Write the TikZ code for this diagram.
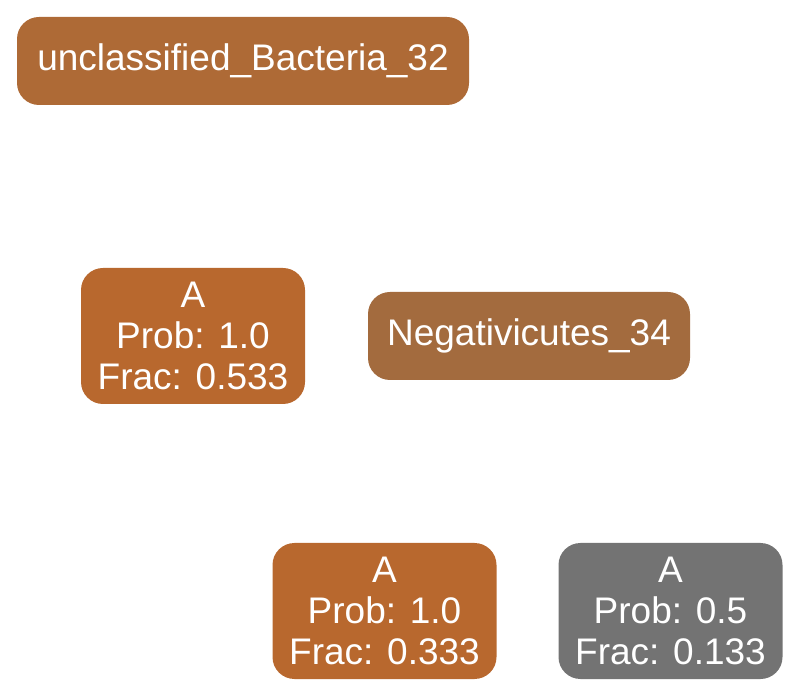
\documentclass[tikz,border=0pt]{standalone}
\usepackage{fontspec}
\setmainfont{Liberation Sans}
\definecolor{rootbrown}{HTML}{AE6A36}
\definecolor{leafbrown}{HTML}{B8682E}
\definecolor{midbrown}{HTML}{A36B3E}
\definecolor{leafgray}{HTML}{737373}
\tikzset{
  taxbox/.style={rounded corners=22pt, inner sep=0pt, text=white, align=center,
    font=\fontsize{37}{41}\selectfont},
  leafbox/.style={taxbox, minimum width=224pt, minimum height=136pt},
  namebox/.style={taxbox, minimum height=88pt}
}
\begin{document}
\begin{tikzpicture}[x=1pt,y=1pt]
  \useasboundingbox (0,0) rectangle (800,696);
  \node[namebox, fill=rootbrown, minimum width=452pt] (root) at (243,635) {unclassified\_Bacteria\_32};
  \node[leafbox, fill=leafbrown] (a1) at (193,360) {A\\Prob: 1.0\\Frac: 0.533};
  \node[namebox, fill=midbrown, minimum width=322pt] (neg) at (529,360) {Negativicutes\_34};
  \node[leafbox, fill=leafbrown] (a2) at (384.5,85) {A\\Prob: 1.0\\Frac: 0.333};
  \node[leafbox, fill=leafgray] (a3) at (670.5,85) {A\\Prob: 0.5\\Frac: 0.133};
\end{tikzpicture}
\end{document}
